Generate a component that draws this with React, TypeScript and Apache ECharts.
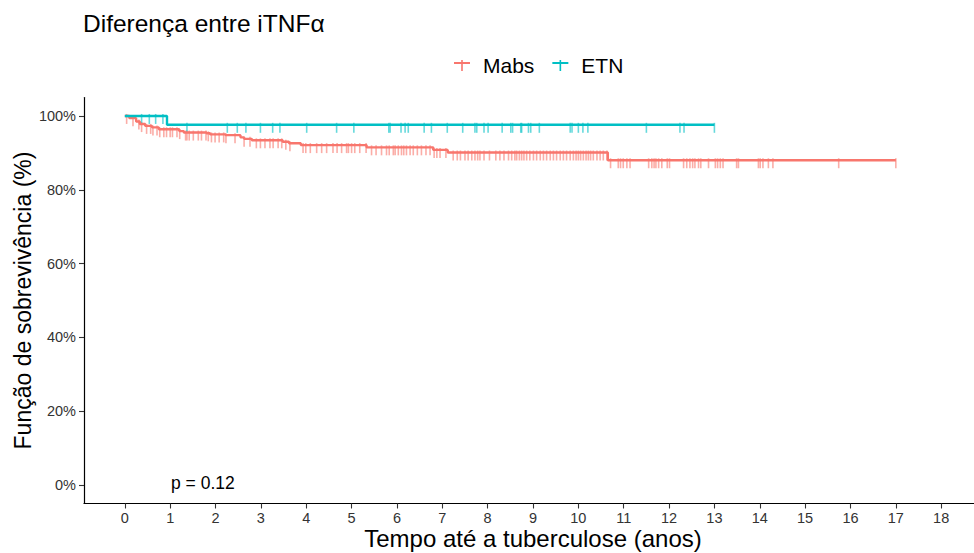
import React, { useEffect, useRef } from "react";
import * as echarts from "echarts";

// Kaplan-Meier step data (years, survival %)
const mabsTimes = [0, 0.1, 0.25, 0.33, 0.45, 0.6, 0.75, 1.2, 1.3, 1.8, 1.88, 2.22, 2.55, 2.63, 2.8, 3.48, 3.62, 3.88, 5.33, 6.8, 7.12, 10.65, 17];
const mabsSurv = [100, 99.4, 98.5, 97.8, 97.3, 96.9, 96.4, 95.9, 95.5, 95.3, 95.0, 94.8, 94.2, 93.8, 93.4, 93.0, 92.6, 92.1, 91.5, 90.8, 90.1, 88.0, 88.0];

const etnTimes = [0, 0.93, 13];
const etnSurv = [100, 97.6, 97.6];

// censoring times (years)
const mabsCensor = [
  0.04, 0.18, 0.31, 0.37, 0.48, 0.57, 0.62, 0.71, 0.77, 0.86, 0.92, 1.0, 1.05, 1.15, 1.21, 1.34, 1.37, 1.42, 1.51, 1.62,
  1.69, 1.79, 1.84, 1.91, 1.99, 2.08, 2.18, 2.23, 2.43, 2.63, 2.76, 2.9, 2.99, 3.09, 3.2, 3.27, 3.38, 3.46, 3.55, 3.64,
  3.93, 3.99, 4.09, 4.23, 4.34, 4.45, 4.59, 4.68, 4.78, 4.89, 4.93, 5.0, 5.07, 5.18, 5.32, 5.44, 5.54, 5.66, 5.77, 5.83,
  5.92, 5.96, 6.03, 6.1, 6.15, 6.21, 6.29, 6.36, 6.45, 6.54, 6.64, 6.73, 6.82, 6.88, 6.95, 7.08, 7.24, 7.33, 7.4, 7.5,
  7.57, 7.65, 7.72, 7.78, 7.83, 7.92, 8.04, 8.18, 8.27, 8.36, 8.46, 8.53, 8.6, 8.64, 8.7, 8.75, 8.8, 8.86, 8.93, 9.01,
  9.08, 9.16, 9.23, 9.3, 9.38, 9.45, 9.52, 9.6, 9.67, 9.74, 9.82, 9.89, 9.95, 10.0, 10.05, 10.11, 10.17, 10.22, 10.27, 10.33,
  10.41, 10.48, 10.55, 10.63, 10.71, 10.88, 10.93, 10.99, 11.07, 11.14, 11.55, 11.62, 11.67, 11.71, 11.77, 11.84, 11.96, 12.01, 12.32, 12.39,
  12.46, 12.52, 12.57, 12.65, 12.7, 12.87, 13.02, 13.07, 13.13, 13.19, 13.49, 13.53, 13.97, 14.01, 14.07, 14.19, 14.29, 15.74, 17.0,
];
const etnCensor = [
  0.37, 0.54, 0.68, 0.84, 1.37, 2.26, 2.48, 2.67, 2.99, 3.26, 3.42, 4.01, 4.67, 5.05, 5.82, 5.85, 6.09, 6.18, 6.25, 6.6,
  6.76, 7.11, 7.45, 7.72, 7.76, 7.92, 8.01, 8.32, 8.51, 8.55, 8.73, 8.75, 8.9, 8.95, 9.14, 9.82, 9.86, 10.0, 10.1, 10.21,
  11.5, 12.24, 12.33, 13.0,
];

const xTicks = [0, 1, 2, 3, 4, 5, 6, 7, 8, 9, 10, 11, 12, 13, 14, 15, 16, 17, 18];
const yTicks = [0, 20, 40, 60, 80, 100];

const groupNames = ["Mabs", "ETN"];
const colors = ["#F8766D", "#00BFC4"];

const FONT = "Liberation Sans, Arial, sans-serif";

function survAt(times: number[], surv: number[], t: number) {
  let v = surv[0];
  for (let i = 0; i < times.length; i++) {
    if (times[i] <= t) v = surv[i];
  }
  return v;
}

const plusIcon = "path://M0,2h16v2H0z M7.2,0h1.6v11H7.2z";

export default function App() {
  const ref = useRef<HTMLDivElement>(null);
  useEffect(() => {
    const chart = echarts.init(ref.current!, null, { renderer: "svg" });
    const mabsLine = mabsTimes.map((t, i) => [t, mabsSurv[i]]);
    const etnLine = etnTimes.map((t, i) => [t, etnSurv[i]]);
    const mabsMarks = mabsCensor.map((t) => [t, survAt(mabsTimes, mabsSurv, t)]);
    const etnMarks = etnCensor.map((t) => [t, survAt(etnTimes, etnSurv, t)]);

    chart.setOption({
      animation: false,
      backgroundColor: "#ffffff",
      textStyle: { fontFamily: FONT },
      title: {
        text: "Diferença entre iTNFα",
        left: 78,
        top: 6,
        textStyle: { fontFamily: FONT, fontSize: 24.5, fontWeight: "normal", color: "#000" },
      },
      legend: {
        left: 449,
        top: 50,
        itemWidth: 16,
        itemHeight: 11,
        itemGap: 18,
        data: groupNames.map((n) => ({ name: n, icon: plusIcon })),
        textStyle: { fontFamily: FONT, fontSize: 21, color: "#000", padding: [0, 0, 0, 8] },
      },
      grid: { left: 84, top: 97.5, width: 898, height: 406, containLabel: false, outerBoundsMode: "none" },
      xAxis: {
        type: "value",
        min: -0.9,
        max: 18.9,
        name: "Tempo até a tuberculose (anos)",
        nameLocation: "middle",
        nameGap: 23,
        nameMoveOverlap: false,
        nameTextStyle: { fontFamily: FONT, fontSize: 24, color: "#000" },
        axisLine: { onZero: false, lineStyle: { color: "#000", width: 1.2 } },
        axisTick: { customValues: xTicks, length: 5, lineStyle: { color: "#333", width: 1.1 } },
        axisLabel: { customValues: xTicks, margin: 7, fontFamily: FONT, fontSize: 14.5, color: "#333" },
        splitLine: { show: false },
      },
      yAxis: {
        type: "value",
        min: -5,
        max: 105,
        name: "Função de sobrevivência (%)",
        nameLocation: "middle",
        nameGap: 50,
        nameMoveOverlap: false,
        nameTextStyle: { fontFamily: FONT, fontSize: 23, color: "#000" },
        axisLine: { show: true, onZero: false, lineStyle: { color: "#000", width: 1.2 } },
        axisTick: { show: true, customValues: yTicks, length: 5, lineStyle: { color: "#333", width: 1.1 } },
        axisLabel: {
          customValues: yTicks,
          margin: 8,
          fontFamily: FONT,
          fontSize: 14.5,
          color: "#333",
          formatter: (v: number) => v + "%",
        },
        splitLine: { show: false },
      },
      graphic: [
        {
          type: "text",
          left: 171,
          top: 474,
          style: { text: "p = 0.12", font: "17.5px " + FONT, fill: "#000" },
        },
      ],
      series: [
        {
          name: "Mabs censor",
          type: "scatter",
          data: mabsMarks,
          symbol: "rect",
          symbolSize: [1.6, 10],
          symbolOffset: [0, 3],
          itemStyle: { color: colors[0], opacity: 0.6 },
          silent: true,
          z: 1,
        },
        {
          name: "ETN censor",
          type: "scatter",
          data: etnMarks,
          symbol: "rect",
          symbolSize: [1.6, 10],
          symbolOffset: [0, 3],
          itemStyle: { color: colors[1], opacity: 0.6 },
          silent: true,
          z: 1,
        },
        {
          name: "Mabs",
          type: "line",
          step: "end",
          data: mabsLine,
          showSymbol: false,
          symbol: "none",
          lineStyle: { color: colors[0], width: 2.4 },
          itemStyle: { color: colors[0] },
          z: 3,
        },
        {
          name: "ETN",
          type: "line",
          step: "end",
          data: etnLine,
          showSymbol: false,
          symbol: "none",
          lineStyle: { color: colors[1], width: 2.4 },
          itemStyle: { color: colors[1] },
          z: 3,
        },
      ],
    });
    return () => chart.dispose();
  }, []);
  return <div ref={ref} style={{ position: "absolute", left: 0, top: 0, width: 974, height: 553 }} />;
}
